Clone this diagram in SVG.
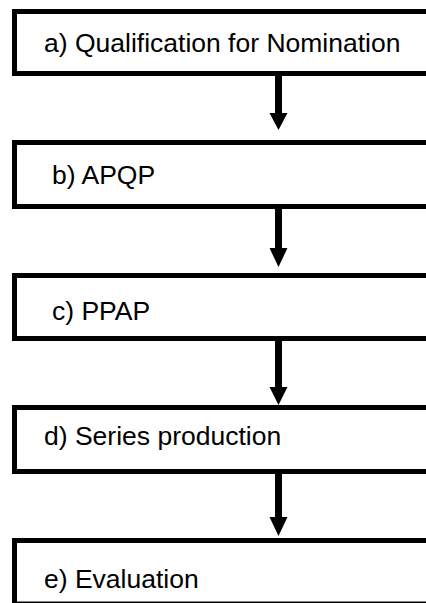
<svg xmlns="http://www.w3.org/2000/svg" width="426" height="603" viewBox="0 0 426 603">
<defs>
<style>
.box{fill:#fff;stroke:#000;stroke-width:5}
.lbl{font-family:"Liberation Sans",Arial,sans-serif;font-size:26.5px;fill:#000}
.shaft{stroke:#000;stroke-width:7;fill:none}
.head{fill:#000}
</style>
</defs>
<rect width="426" height="603" fill="#fff"/>
<g id="node-a"><rect class="box" x="14.5" y="11.5" width="430" height="62"/><text class="lbl" x="44" y="52">a) Qualification for Nomination</text></g>
<g id="node-b"><rect class="box" x="14.5" y="142.5" width="430" height="64"/><text class="lbl" x="52" y="184">b) APQP</text></g>
<g id="node-c"><rect class="box" x="14.5" y="275.5" width="430" height="63"/><text class="lbl" x="52" y="320">c) PPAP</text></g>
<g id="node-d"><rect class="box" x="14.5" y="407.5" width="430" height="64"/><text class="lbl" x="44" y="445">d) Series production</text></g>
<g id="node-e"><rect class="box" x="14.5" y="540.5" width="430" height="63.5"/><text class="lbl" x="44" y="588">e) Evaluation</text></g>
<g id="connectors">
<line class="shaft" x1="278.5" y1="76" x2="278.5" y2="114"/><polygon class="head" points="269.5,113 287.5,113 278.5,130"/>
<line class="shaft" x1="278.5" y1="209" x2="278.5" y2="249"/><polygon class="head" points="269.5,248 287.5,248 278.5,267"/>
<line class="shaft" x1="278.5" y1="341" x2="278.5" y2="388"/><polygon class="head" points="269.5,387 287.5,387 278.5,405"/>
<line class="shaft" x1="278.5" y1="474" x2="278.5" y2="518"/><polygon class="head" points="269.5,517 287.5,517 278.5,536"/>
</g>
</svg>
